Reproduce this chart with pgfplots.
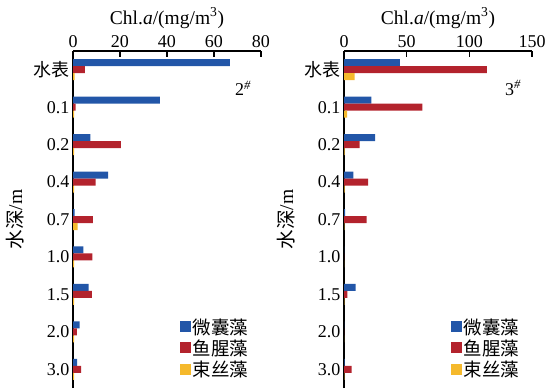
\documentclass[border=0pt]{standalone}
\usepackage{pgfplots}
\pgfplotsset{compat=1.18}
\usepackage{fontspec}
\setmainfont{Liberation Serif}
\newfontfamily\cjk{Noto Sans CJK SC}
\definecolor{cblue}{HTML}{2256A8}
\definecolor{cred}{HTML}{B3232D}
\definecolor{cyel}{HTML}{F5B92C}
\newcommand{\fs}{\fontsize{18}{21}\selectfont}
\newcommand{\fl}{\fontsize{19.5}{22}\selectfont}
\pgfplotsset{
  common/.style={
    xbar, scale only axis, width=188pt, height=337pt,
    anchor=south west,
    ymin=-0.5, ymax=8.5,
    axis x line*=top, axis y line*=left,
    axis line style={-, line width=1.1pt},
    tick align=inside,
    every tick/.style={black, line width=1.1pt},
    major tick length=6pt,
    ytick={0,...,8},
    yticklabels={3.0,2.0,1.5,1.0,0.7,0.4,0.2,0.1,{\cjk 水表}},
    y tick style={draw=none},
    minor ytick={-0.5,0.5,...,8.5},
    minor y tick style={black, line width=1.1pt},
    minor tick length=6pt,
    /pgf/number format/assume math mode=true,
    tick label style={font=\fs},
    label style={font=\fl},
    xlabel={Chl.\textit{a}/(mg/m\textsuperscript{3})},
    ylabel={{\cjk 水深}/m},
    ylabel style={at={(axis description cs:-0.31,0.5)}, anchor=center},
    bar width=7pt,
    legend cell align=left,
    legend style={draw=none, fill=none, font=\cjk\fontsize{18.5}{21}\selectfont, anchor=south east,
      row sep=0pt, inner sep=1pt},
    legend image code/.code={\fill[#1] (0pt,-5pt) rectangle (11pt,6pt);},
  },
  sb/.style={fill=cblue, draw=none, bar shift=7pt},
  sr/.style={fill=cred, draw=none, bar shift=0pt},
  sy/.style={fill=cyel, draw=none, bar shift=-7pt},
}
\begin{document}
\begin{tikzpicture}
\path[use as bounding box] (0pt,0pt) rectangle (548pt,389pt);
\begin{axis}[common, at={(73pt,1pt)}, xmin=0, xmax=80, xtick={0,20,40,60,80},
  legend style={at={(axis description cs:0.95,0.02)}}]
\addplot[sb] coordinates {(66.8,8) (37.0,7) (7.4,6) (15.0,5) (0.7,4) (4.4,3) (6.7,2) (2.8,1) (1.8,0)};
\addplot[sr] coordinates {(5.1,8) (1.1,7) (20.4,6) (9.6,5) (8.5,4) (8.2,3) (8.0,2) (1.6,1) (3.5,0)};
\addplot[sy] coordinates {(0.7,8) (0.5,7) (0.5,6) (0.5,5) (2.0,4) (0.5,3) (0.5,2) (0.5,1) (0.5,0)};
\legend{微囊藻,鱼腥藻,束丝藻}
\node[font=\fs] at (rel axis cs:0.905,0.89) {2\textsuperscript{\textit{\#}}};
\end{axis}
\begin{axis}[common, at={(344pt,1pt)}, xmin=0, xmax=150, xtick={0,50,100,150},
  legend style={at={(axis description cs:0.95,0.02)}}]
\addplot[sb] coordinates {(44.5,8) (21.9,7) (24.8,6) (7.5,5) (0.8,4) (0,3) (9.3,2) (0,1) (0.5,0)};
\addplot[sr] coordinates {(114,8) (62.6,7) (12.5,6) (19.2,5) (18.1,4) (0,3) (2.7,2) (0,1) (6.1,0)};
\addplot[sy] coordinates {(8.5,8) (2.4,7) (0.5,6) (0.5,5) (0.3,4) (0,3) (0.3,2) (0,1) (0.3,0)};
\legend{微囊藻,鱼腥藻,束丝藻}
\node[font=\fs] at (rel axis cs:0.9,0.89) {3\textsuperscript{\textit{\#}}};
\end{axis}
\end{tikzpicture}
\end{document}
